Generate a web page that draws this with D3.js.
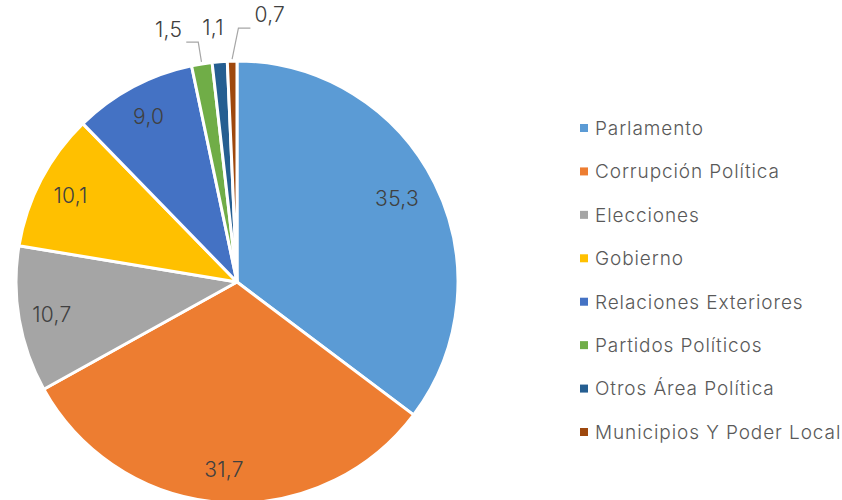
<!DOCTYPE html>
<html>
<head>
<meta charset="utf-8">
<script src="https://cdn.jsdelivr.net/npm/d3@7"></script>
<style>
  body { margin: 0; background: #fff; }
  text { font-family: "Inter", "Noto Sans", sans-serif; font-weight: 300; }
</style>
</head>
<body>
<script>
// data
var categories = ["Parlamento", "Corrupción Política", "Elecciones", "Gobierno",
                  "Relaciones Exteriores", "Partidos Políticos", "Otros Área Política",
                  "Municipios Y Poder Local"];
var values = [35.3, 31.7, 10.7, 10.1, 9.0, 1.5, 1.1, 0.7];
var colors = ["#5B9BD5", "#ED7D31", "#A5A5A5", "#FFC000",
              "#4472C4", "#70AD47", "#255E91", "#9E480E"];

var w = 842, h = 500;
var cx = 237, cy = 282, R = 221;

var svg = d3.select("body").append("svg")
    .attr("width", w)
    .attr("height", h);

var fmt = function(v){ return d3.format(".1f")(v).replace(".", ","); };

var color = d3.scaleOrdinal().domain(categories).range(colors);

var pie = d3.pie().sort(null).value(function(d){ return d.v; });
var arcs = pie(categories.map(function(c, i){ return {c: c, v: values[i]}; }));

var arc = d3.arc().innerRadius(0).outerRadius(R);
var labelArc = d3.arc().innerRadius(R*0.85).outerRadius(R*0.85);

var g = svg.append("g").attr("transform", "translate(" + cx + "," + cy + ")");

// slices
g.selectAll("path.slice")
    .data(arcs)
    .enter().append("path")
    .attr("class", "slice")
    .attr("d", arc)
    .attr("fill", function(d){ return color(d.data.c); })
    .attr("stroke", "#fff")
    .attr("stroke-width", 3)
    .attr("stroke-linejoin", "round");

// inside labels
var big = arcs.filter(function(d){ return d.data.v >= 5; });
g.selectAll("text.in")
    .data(big)
    .enter().append("text")
    .attr("class", "in")
    .attr("x", function(d){ return labelArc.centroid(d)[0] - (d.index == 0 ? 8 : 0); })
    .attr("y", function(d){ return labelArc.centroid(d)[1]; })
    .attr("dy", "0.36em")
    .attr("text-anchor", "middle")
    .style("font-size", "21px")
    .style("letter-spacing", "0.3px")
    .style("fill", "#404040")
    .text(function(d){ return fmt(d.data.v); });

// small slices: outside with leader lines
var small = arcs.filter(function(d){ return d.data.v < 5; });
var n = small.length;
small.forEach(function(d, i){
    var a = (d.startAngle + d.endAngle) / 2;
    var side = i == 0 ? -1 : (i == n-1 ? 1 : 0);
    var lift = side == 1 ? 33 : 22;
    var x0 = (R+2) * Math.sin(a), y0 = -(R+2) * Math.cos(a);
    var x1 = (R+lift) * Math.sin(a) + (side == 1 ? 7 : 0), y1 = -(R+lift) * Math.cos(a);
    if (side != 0) {
        var x2 = x1 + side*12;
        g.append("polyline")
            .attr("points", [[x0,y0],[x1,y1],[x2,y1]].join(" "))
            .attr("fill", "none")
            .attr("stroke", "#A6A6A6")
            .attr("stroke-width", 1.2);
        g.append("text")
            .attr("x", x2 + side*4)
            .attr("y", y1 - (side == 1 ? 6 : 5))
            .attr("text-anchor", side < 0 ? "end" : "start")
            .style("font-size", "21px")
            .style("letter-spacing", "0.3px")
            .style("fill", "#404040")
            .text(fmt(d.data.v));
    } else {
        g.append("text")
            .attr("x", x1 - 5)
            .attr("y", y1 - 5)
            .attr("text-anchor", "middle")
            .style("font-size", "21px")
            .style("letter-spacing", "0.3px")
            .style("fill", "#404040")
            .text(fmt(d.data.v));
    }
});

// legend
var ly = d3.scalePoint().domain(categories).range([128, 432]);
var leg = svg.selectAll("g.leg")
    .data(categories)
    .enter().append("g")
    .attr("class", "leg")
    .attr("transform", function(d){ return "translate(580," + ly(d) + ")"; });
leg.append("rect")
    .attr("x", 0).attr("y", -4)
    .attr("width", 8).attr("height", 8)
    .attr("fill", function(d){ return color(d); });
leg.append("text")
    .attr("x", 15)
    .attr("dy", "0.36em")
    .style("font-size", "19px")
    .style("letter-spacing", "0.9px")
    .style("fill", "#595959")
    .text(function(d){ return d; });
</script>
</body>
</html>
